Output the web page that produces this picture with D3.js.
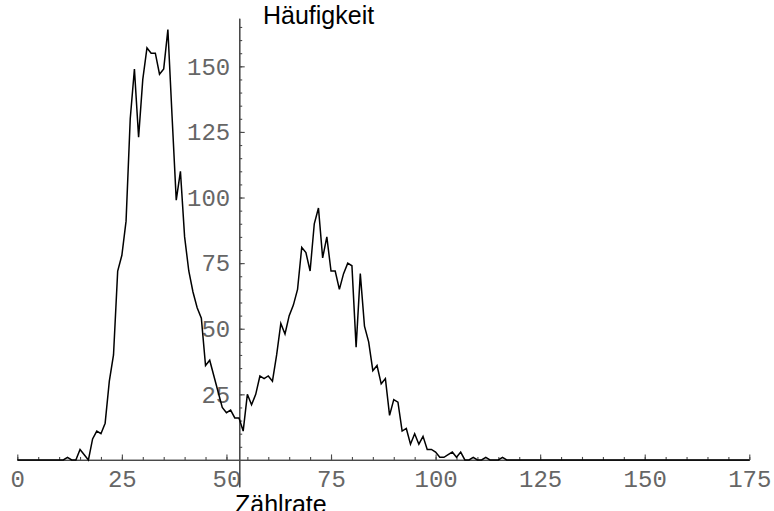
<!DOCTYPE html>
<html>
<head>
<meta charset="utf-8">
<script src="https://cdn.jsdelivr.net/npm/d3@7"></script>
<style>
  html, body { margin: 0; padding: 0; background: #fff; }
  svg { display: block; }
</style>
</head>
<body>
<svg id="chart" width="774" height="511"></svg>
<script>
// Counts (Häufigkeit) for count rates (Zählrate) 0..175
const rates = d3.range(0, 176);
const counts = [
  0,0,0,0,0,0,0,0,0,0,            // 0-9
  0,0,1,0,0,4,2,0,8,11,           // 10-19
  10,14,30,40,72,78,91,130,149,123, // 20-29
  145,157,155,155,147,149,164,131,99,110, // 30-39
  85,72,64,58,54,36,38,32,26,20,  // 40-49
  18,19,16,16,11,25,21,25,32,31,  // 50-59
  32,30,40,52,48,55,59,65,81,79,  // 60-69
  72,90,96,77,85,72,72,65,71,75,  // 70-79
  74,43,71,51,45,34,36,29,31,17,  // 80-89
  23,22,11,12,6,10,6,9,4,4,       // 90-99
  3,1,1,2,3,1,3,0,0,1,            // 100-109
  0,0,1,0,0,0,1,0,0,0,            // 110-119
  0,0,0,0,0,0,0,0,0,0,            // 120-129
  0,0,0,0,0,0,0,0,0,0,            // 130-139
  0,0,0,0,0,0,0,0,0,0,            // 140-149
  0,0,0,0,0,0,0,0,0,0,            // 150-159
  0,0,0,0,0,0,0,0,0,0,            // 160-169
  0,0,0,0,0,0                     // 170-175
];
const xMajorTicks = [0, 25, 50, 75, 100, 125, 150, 175];
const xMinorTicks = d3.range(0, 176, 5);
const yMajorTicks = [25, 50, 75, 100, 125, 150];
const yMinorTicks = d3.range(5, 166, 5);
const xTitle = "Zählrate";
const yTitle = "Häufigkeit";
const xDomain = [0, 175];
const yDomain = [-10.2, 168.3];
const yAxisAt = 53.05;

const svg = d3.select("#chart");
const x = d3.scaleLinear().domain(xDomain).range([17.3, 749.3]);
const y = d3.scaleLinear().domain(yDomain).range([486.7, 18.3]);

const axisColor = "#4a4a4a";
const labelFont = "'Liberation Mono', 'Courier New', monospace";

// X axis minor ticks
const gxMinor = svg.append("g")
  .attr("transform", `translate(0,${y(0)})`)
  .call(d3.axisBottom(x).tickValues(xMinorTicks).tickSizeInner(-3).tickSizeOuter(0).tickFormat(""));
// X axis major ticks + labels
const gx = svg.append("g")
  .attr("transform", `translate(0,${y(0)})`)
  .call(d3.axisBottom(x).tickValues(xMajorTicks).tickSizeInner(-5.5).tickSizeOuter(0).tickPadding(10)
        .tickFormat(d3.format("d")));

// Y axis minor ticks
const gyMinor = svg.append("g")
  .attr("transform", `translate(${x(yAxisAt)},0)`)
  .call(d3.axisLeft(y).tickValues(yMinorTicks).tickSizeInner(-3).tickSizeOuter(0).tickFormat(""));
// Y axis major ticks + labels
const gy = svg.append("g")
  .attr("transform", `translate(${x(yAxisAt)},0)`)
  .call(d3.axisLeft(y).tickValues(yMajorTicks).tickSizeInner(-5.5).tickSizeOuter(0).tickPadding(9)
        .tickFormat(d3.format("d")));

[gxMinor, gx, gyMinor, gy].forEach(g => {
  g.selectAll("path.domain").attr("stroke", axisColor).attr("stroke-width", 1.3);
  g.selectAll(".tick line").attr("stroke", axisColor).attr("stroke-width", 1.1);
  g.selectAll(".tick text")
    .attr("fill", "#666")
    .style("font-family", labelFont)
    .style("font-size", "24px");
});

// Data line
const line = d3.line()
  .x((d, i) => x(rates[i]))
  .y(d => y(d));
svg.append("path")
  .datum(counts)
  .attr("fill", "none")
  .attr("stroke", "#000")
  .attr("stroke-width", 1.5)
  .attr("stroke-linejoin", "miter")
  .attr("d", line);

// Titles
svg.append("text")
  .attr("x", 263)
  .attr("y", 24)
  .attr("fill", "#000")
  .style("font-family", "'Liberation Sans', Arial, sans-serif")
  .style("font-size", "25px")
  .text(yTitle);
svg.append("text")
  .attr("x", 235)
  .attr("y", 513)
  .attr("fill", "#000")
  .style("font-family", "'Liberation Sans', Arial, sans-serif")
  .style("font-size", "25px")
  .text(xTitle);
</script>
</body>
</html>
